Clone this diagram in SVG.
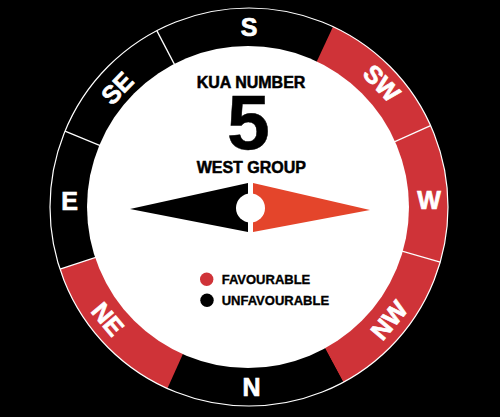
<svg xmlns="http://www.w3.org/2000/svg" width="500" height="417" viewBox="0 0 500 417">
  <style>
    .red { fill: #cf3338; }
    .blk { fill: #000000; }
    .sep { stroke: #ffffff; stroke-width: 1.3; }
    .lbl { font-family: "Liberation Sans", Arial, sans-serif; font-weight: bold; fill: #ffffff; stroke: #ffffff; stroke-width: 0.7; font-size: 25px; text-anchor: middle; }
    .ctr { font-family: "Liberation Sans", Arial, sans-serif; font-weight: bold; fill: #000000; stroke: #000000; stroke-width: 0.5; text-anchor: middle; }
    .leg { font-family: "Liberation Sans", Arial, sans-serif; font-weight: bold; fill: #000000; stroke: #000000; stroke-width: 0.35; font-size: 13px; }
  </style>
  <rect x="0" y="0" width="500" height="417" fill="#000000"/>
  <g id="ring">
    <path id="seg-S" class="blk" d="M249,207 L156.8,30.6 A199,199 0 0 1 333.1,26.6 Z"/>
    <path id="seg-SW" class="red" d="M249,207 L333.1,26.6 A199,199 0 0 1 430.6,125.7 Z"/>
    <path id="seg-W" class="red" d="M249,207 L430.6,125.7 A199,199 0 0 1 440.2,262.2 Z"/>
    <path id="seg-NW" class="red" d="M249,207 L440.2,262.2 A199,199 0 0 1 343.3,382.2 Z"/>
    <path id="seg-N" class="blk" d="M249,207 L343.3,382.2 A199,199 0 0 1 167.4,388.5 Z"/>
    <path id="seg-NE" class="red" d="M249,207 L167.4,388.5 A199,199 0 0 1 60.0,269.1 Z"/>
    <path id="seg-E" class="blk" d="M249,207 L60.0,269.1 A199,199 0 0 1 65.0,131.2 Z"/>
    <path id="seg-SE" class="blk" d="M249,207 L65.0,131.2 A199,199 0 0 1 156.8,30.6 Z"/>
    <g id="separators">
      <line class="sep" x1="249" y1="207" x2="156.8" y2="30.6"/>
      <line class="sep" x1="249" y1="207" x2="430.6" y2="125.7"/>
      <line class="sep" x1="249" y1="207" x2="440.2" y2="262.2"/>
      <line class="sep" x1="249" y1="207" x2="60.0" y2="269.1"/>
      <line class="sep" x1="249" y1="207" x2="65.0" y2="131.2"/>
    </g>
    <circle cx="249" cy="207" r="199" fill="none" stroke="#ffffff" stroke-width="1.2"/>
    <circle id="face" cx="248" cy="207" r="161" fill="#ffffff"/>
  </g>
  <g id="labels">
    <text class="lbl" x="249" y="35.7">S</text>
    <text class="lbl" x="429" y="209.3" font-size="27">W</text>
    <text class="lbl" x="251.5" y="395.7">N</text>
    <text class="lbl" x="69.7" y="210" font-size="27">E</text>
    <text class="lbl" transform="translate(117,88) rotate(-46)" x="0" y="9">SE</text>
    <text class="lbl" transform="translate(382,83) rotate(46)" x="0" y="9">SW</text>
    <text class="lbl" transform="translate(108,319) rotate(50)" x="0" y="9">NE</text>
    <text class="lbl" transform="translate(389,320) rotate(-50)" x="0" y="9">NW</text>
  </g>
  <g id="title">
    <text class="ctr" x="251" y="88.3" font-size="16">KUA NUMBER</text>
    <text class="ctr" x="248.5" y="149" font-size="77" stroke-width="2.2">5</text>
    <text class="ctr" x="251.3" y="172.7" font-size="16">WEST GROUP</text>
  </g>
  <g id="needle">
    <path d="M130,209 L248,183 L248,232 Z" fill="#000000"/>
    <path d="M253,183 L370,210 L253,232 Z" fill="#e4452b"/>
    <circle cx="250.5" cy="208" r="14.5" fill="#ffffff"/>
  </g>
  <g id="legend">
    <circle cx="206.7" cy="279.3" r="6.7" fill="#cf3338"/>
    <text class="leg" x="221.7" y="283.5">FAVOURABLE</text>
    <circle cx="207" cy="300.3" r="6.7" fill="#000000"/>
    <text class="leg" x="221.7" y="304.5">UNFAVOURABLE</text>
  </g>
</svg>
